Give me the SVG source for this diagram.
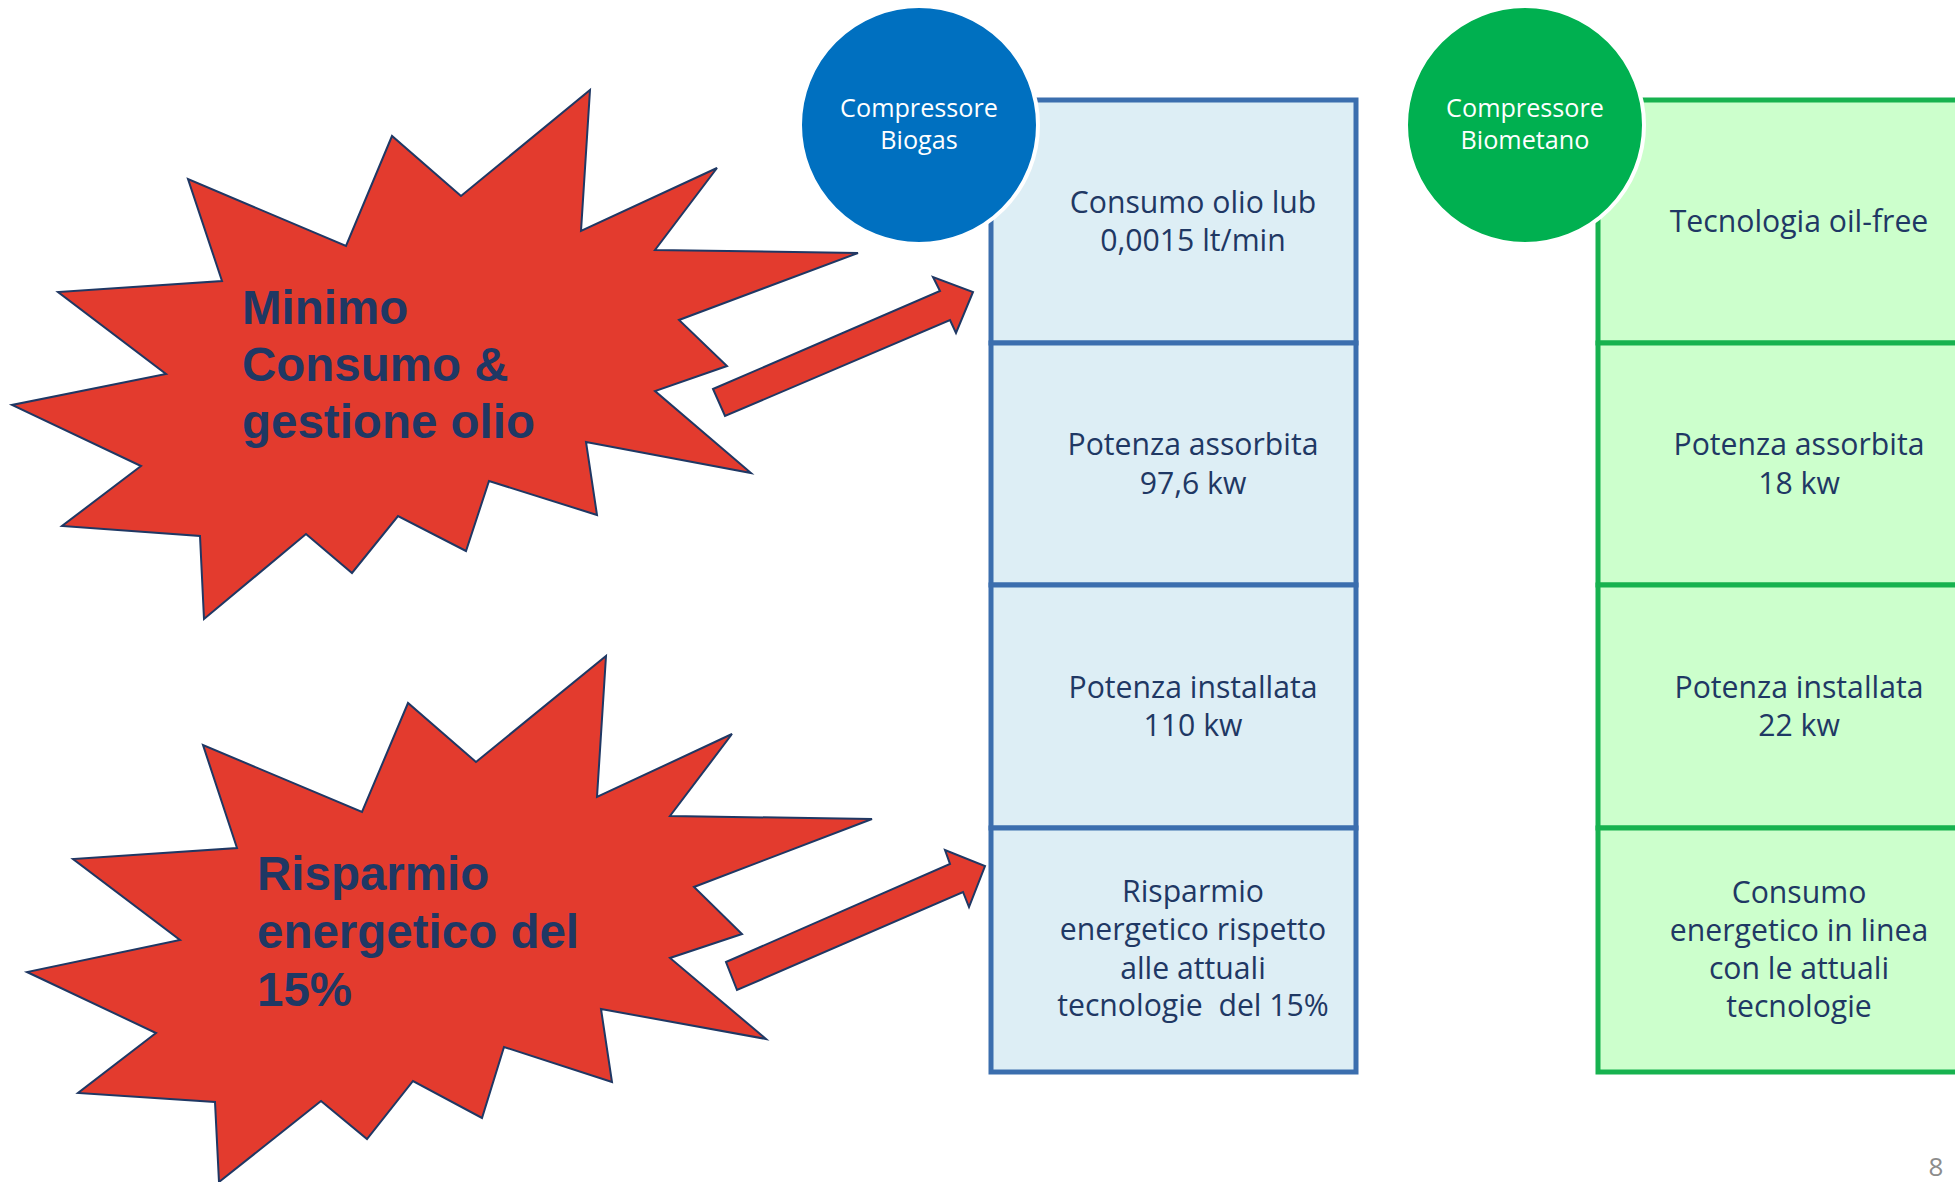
<svg xmlns="http://www.w3.org/2000/svg" width="1955" height="1182" viewBox="0 0 1955 1182">
<style>
.star{fill:#E33B2E;stroke:#1F3864;stroke-width:2;stroke-linejoin:miter}
.startxt{font-family:"Liberation Sans",Arial,sans-serif;font-weight:bold;font-size:47.5px;fill:#1F3864}
.arrow{fill:#E33B2E;stroke:#1F3864;stroke-width:2}
.cellB{fill:#DDEEF5;stroke:#3B6EAE;stroke-width:5}
.cellG{fill:#CCFFCC;stroke:#17B24F;stroke-width:5}
.ctxt{font-family:"Open Sans","Noto Sans",sans-serif;font-size:30.2px;fill:#1F3864;text-anchor:middle}
.circ{stroke:#FFFFFF;stroke-width:4}
.circtxt{font-family:"Open Sans","Noto Sans",sans-serif;font-size:25.2px;fill:#FFFFFF;text-anchor:middle}
</style>
<rect width="1955" height="1182" fill="#FFFFFF"/>

<g id="star-olio">
<polygon class="star" points="590,90 581,231 717,168 655,250 858,253 679,320 727,366 655,391 751,473 586,442 597,515 489,481 466,551 398,516 352,573 306,534 204,619 200,536 62,526 141,466 12,405 166,374 58,292 222,281 188,179 346,246 392,136 461,196"/>
<text class="startxt"><tspan x="242" y="324">Minimo</tspan><tspan x="242" y="381">Consumo &amp;</tspan><tspan x="242" y="438">gestione olio</tspan></text>
</g>

<g id="star-risparmio">
<polygon class="star" points="606,656 597,797 732,734 670,816 872,819 694,887 742,934 670,958 766,1039 601,1009 612,1082 504,1047 482,1118 413,1081 367,1139 321,1101 219,1182 215,1102 78,1093 156,1033 27,972 180,940 73,859 237,848 203,745 362,812 408,703 476,762"/>
<text class="startxt"><tspan x="257" y="890">Risparmio</tspan><tspan x="257" y="948">energetico del</tspan><tspan x="257" y="1006">15%</tspan></text>
</g>

<g id="connectors">
<polygon class="arrow" points="713,389 940,291 933,277 973,292 956,333 950,320 725,416"/>
<polygon class="arrow" points="726,962 950,864 945,850 985,866 969,907 963,892 737,990"/>
</g>

<g id="box-biogas">
<rect class="cellB" x="991" y="100" width="365" height="243"/>
<rect class="cellB" x="991" y="343" width="365" height="242"/>
<rect class="cellB" x="991" y="585" width="365" height="243"/>
<rect class="cellB" x="991" y="828" width="365" height="244"/>
<text class="ctxt"><tspan x="1193" y="213">Consumo olio lub</tspan><tspan x="1193" y="251">0,0015 lt/min</tspan></text>
<text class="ctxt"><tspan x="1193" y="455">Potenza assorbita</tspan><tspan x="1193" y="494">97,6 kw</tspan></text>
<text class="ctxt"><tspan x="1193" y="698">Potenza installata</tspan><tspan x="1193" y="736">110 kw</tspan></text>
<text class="ctxt"><tspan x="1193" y="902">Risparmio</tspan><tspan x="1193" y="940">energetico rispetto</tspan><tspan x="1193" y="979">alle attuali</tspan><tspan x="1193" y="1016" xml:space="preserve">tecnologie  del 15%</tspan></text>
</g>

<g id="box-biometano">
<rect class="cellG" x="1598" y="100" width="420" height="243"/>
<rect class="cellG" x="1598" y="343" width="420" height="242"/>
<rect class="cellG" x="1598" y="585" width="420" height="243"/>
<rect class="cellG" x="1598" y="828" width="420" height="244"/>
<text class="ctxt" x="1799" y="232">Tecnologia oil-free</text>
<text class="ctxt"><tspan x="1799" y="455">Potenza assorbita</tspan><tspan x="1799" y="494">18 kw</tspan></text>
<text class="ctxt"><tspan x="1799" y="698">Potenza installata</tspan><tspan x="1799" y="736">22 kw</tspan></text>
<text class="ctxt"><tspan x="1799" y="903">Consumo</tspan><tspan x="1799" y="941">energetico in linea</tspan><tspan x="1799" y="979">con le attuali</tspan><tspan x="1799" y="1017">tecnologie</tspan></text>
</g>

<g id="circle-biogas">
<circle class="circ" cx="919" cy="125" r="119" fill="#0070C0"/>
<text class="circtxt"><tspan x="919" y="117">Compressore</tspan><tspan x="919" y="149">Biogas</tspan></text>
</g>

<g id="circle-biometano">
<circle class="circ" cx="1525" cy="125" r="119" fill="#00B050"/>
<text class="circtxt"><tspan x="1525" y="117">Compressore</tspan><tspan x="1525" y="149">Biometano</tspan></text>
</g>

<text x="1936" y="1176" font-family="'Open Sans','Noto Sans',sans-serif" font-size="26" fill="#8C8C8C" text-anchor="middle">8</text>
</svg>
